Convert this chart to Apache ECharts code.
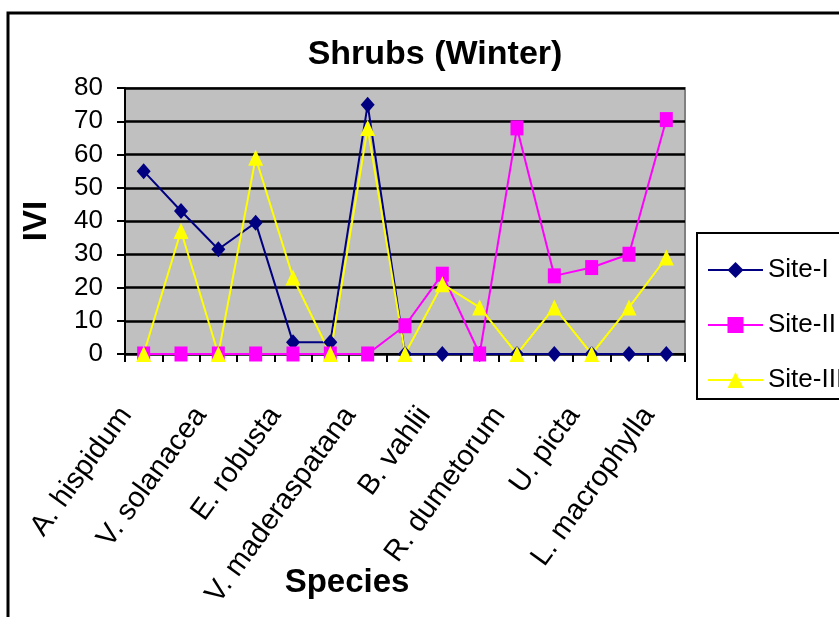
<!DOCTYPE html>
<html>
<head>
<meta charset="utf-8">
<script src="https://cdn.jsdelivr.net/npm/echarts@6/dist/echarts.min.js"></script>
<style>
  html, body { margin: 0; padding: 0; background: #fff; }
  #chart { width: 839px; height: 617px; }
</style>
</head>
<body>
<div id="chart"></div>
<script>
// categories: only every other species is labelled on the axis
const species = ['A. hispidum', '', 'V. solanacea', '', 'E. robusta', '', 'V. maderaspatana', '',
  'B. vahlii', '', 'R. dumetorum', '', 'U. picta', '', 'L. macrophylla'];
const siteI = [55, 43, 31.5, 39.5, 3.5, 3.5, 75, 0, 0, 0, 0, 0, 0, 0, 0];
const siteII = [0, 0, 0, 0, 0, 0, 0, 8.5, 24, 0, 68, 23.5, 26, 30, 70.5];
const siteIII = [0, 37, 0, 59, 23, 0, 68, 0, 21, 14, 0, 14, 0, 14, 29];

const font = '"Liberation Sans", Arial, sans-serif';

const chart = echarts.init(document.getElementById('chart'), null, { renderer: 'canvas' });

const option = {
  backgroundColor: '#fff',
  animation: false,
  textStyle: { fontFamily: font, color: '#000' },
  title: {
    text: 'Shrubs (Winter)',
    left: 430,
    top: 33,
    textAlign: 'center',
    textStyle: { fontFamily: font, fontSize: 34, fontWeight: 'bold', color: '#000' }
  },
  graphic: [{
    type: 'rect',
    shape: { x: 8, y: 13, width: 900, height: 700 },
    style: { fill: 'none', stroke: '#000', lineWidth: 3 },
    silent: true,
    z: -10
  }],
  legend: {
    orient: 'vertical',
    left: 697,
    top: 233,
    padding: [24, 12, 6, 10],
    itemGap: 29,
    itemWidth: 55,
    itemHeight: 20,
    borderColor: '#000',
    borderWidth: 2,
    backgroundColor: '#fff',
    textStyle: { fontFamily: font, fontSize: 26, color: '#000' },
    data: ['Site-I', 'Site-II', 'Site-III']
  },
  grid: {
    left: 125,
    right: 154,
    top: 88,
    bottom: 263,
    containLabel: false,
    outerBoundsMode: 'none',
    show: true,
    backgroundColor: '#c0c0c0',
    borderColor: '#808080',
    borderWidth: 2
  },
  xAxis: {
    type: 'category',
    data: species,
    boundaryGap: true,
    name: 'Species',
    nameLocation: 'middle',
    nameGap: 212,
    nameMoveOverlap: false,
    nameTextStyle: {
      fontFamily: font, fontSize: 33, fontWeight: 'bold', color: '#000',
      padding: [0, 116, 0, 0]
    },
    axisLine: { lineStyle: { color: '#000', width: 2 } },
    axisTick: { show: true, interval: 0, alignWithLabel: false, length: 8, lineStyle: { color: '#000', width: 2 } },
    axisLabel: {
      interval: 1,
      rotate: 54,
      margin: 32,
      padding: [0, 30, 0, 0],
      fontFamily: font,
      fontSize: 29,
      color: '#000'
    },
    splitLine: { show: false }
  },
  yAxis: {
    type: 'value',
    min: 0,
    max: 80,
    interval: 10,
    name: 'IVI',
    nameLocation: 'middle',
    nameGap: 72,
    nameMoveOverlap: false,
    nameRotate: 90,
    nameTextStyle: { fontFamily: font, fontSize: 33, fontWeight: 'bold', color: '#000' },
    axisLine: { show: true, lineStyle: { color: '#000', width: 2 } },
    axisTick: { show: true, inside: false, length: 8, lineStyle: { color: '#000', width: 2 } },
    axisLabel: { margin: 22, fontFamily: font, fontSize: 26, color: '#000' },
    splitLine: { show: true, lineStyle: { color: '#000', width: 2.5 } }
  },
  series: [
    {
      name: 'Site-I',
      type: 'line',
      data: siteI,
      symbol: 'diamond',
      symbolSize: [14, 16],
      color: '#000080',
      lineStyle: { color: '#000080', width: 2 },
      itemStyle: { color: '#000080' }
    },
    {
      name: 'Site-II',
      type: 'line',
      data: siteII,
      symbol: 'rect',
      symbolSize: [13, 15],
      color: '#ff00ff',
      lineStyle: { color: '#ff00ff', width: 2 },
      itemStyle: { color: '#ff00ff' }
    },
    {
      name: 'Site-III',
      type: 'line',
      data: siteIII,
      symbol: 'triangle',
      symbolSize: [15, 16],
      color: '#ffff00',
      lineStyle: { color: '#ffff00', width: 2 },
      itemStyle: { color: '#ffff00' }
    }
  ]
};

chart.setOption(option);
</script>
</body>
</html>
